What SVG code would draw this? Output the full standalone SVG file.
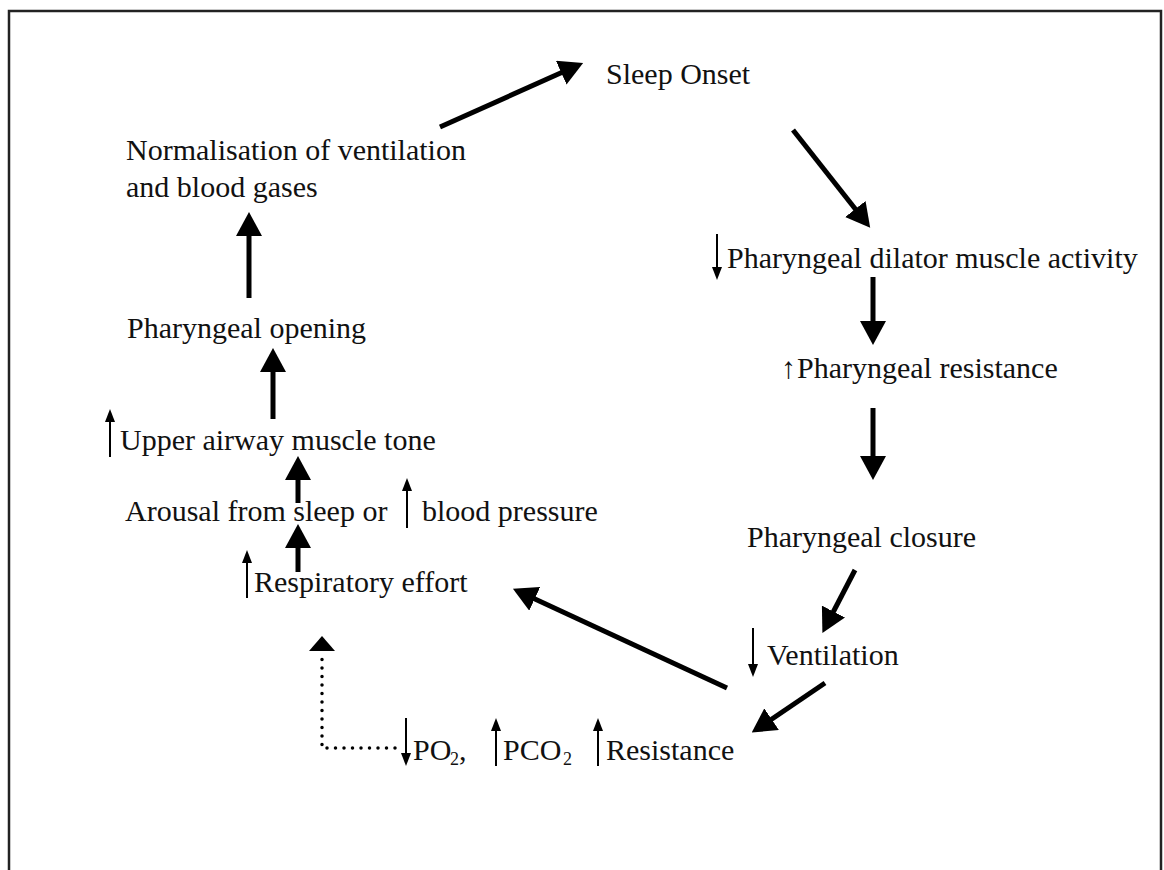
<svg xmlns="http://www.w3.org/2000/svg" width="1164" height="870" viewBox="0 0 1164 870">
  <style>
    text { font-family: "Liberation Serif", "Times New Roman", serif; font-size: 30px; fill: #111; }
    .sub { font-size: 18px; }
    .big { stroke: #000; stroke-width: 5; fill: none; }
    .small { stroke: #000; stroke-width: 2; fill: none; }
    .dot { stroke: #000; stroke-width: 3.5; fill: none; stroke-linecap: round; stroke-dasharray: 0 8.5; }
  </style>
  <defs>
    <marker id="bigHead" markerUnits="userSpaceOnUse" viewBox="0 0 24 26" refX="14" refY="13" markerWidth="24" markerHeight="26" orient="auto">
      <path d="M0,0 L24,13 L0,26 z" fill="#000"/>
    </marker>
    <marker id="smallHead" markerUnits="userSpaceOnUse" viewBox="0 0 13 10" refX="9" refY="5" markerWidth="13" markerHeight="10" orient="auto">
      <path d="M0,0 L13,5 L0,10 z" fill="#000"/>
    </marker>
  </defs>
  <rect width="1164" height="870" fill="#fff"/>
  <path d="M9,870 V11 H1161 V870" fill="none" stroke="#222" stroke-width="2.5"/>

  <g id="connectors">
    <line class="big" x1="440" y1="127" x2="574" y2="67" marker-end="url(#bigHead)"/>
    <line class="big" x1="793" y1="130" x2="864" y2="220" marker-end="url(#bigHead)"/>
    <line class="big" x1="873" y1="277" x2="873" y2="335" marker-end="url(#bigHead)"/>
    <line class="big" x1="873" y1="408" x2="873" y2="470" marker-end="url(#bigHead)"/>
    <line class="big" x1="855" y1="570" x2="827" y2="624" marker-end="url(#bigHead)"/>
    <line class="big" x1="727" y1="688" x2="522" y2="593" marker-end="url(#bigHead)"/>
    <line class="big" x1="825" y1="683" x2="760" y2="727" marker-end="url(#bigHead)"/>
    <line class="big" x1="249" y1="298" x2="249" y2="222" marker-end="url(#bigHead)"/>
    <line class="big" x1="273" y1="419" x2="273" y2="358" marker-end="url(#bigHead)"/>
    <line class="big" x1="298" y1="503" x2="298" y2="466" marker-end="url(#bigHead)"/>
    <line class="big" x1="298" y1="572" x2="298" y2="534" marker-end="url(#bigHead)"/>
    <path class="dot" d="M395,748 H322 V656"/>
    <path d="M309,651 L322,636 L335,651 z" fill="#000"/>
  </g>

  <g id="sleep-onset">
    <text x="606" y="84">Sleep Onset</text>
  </g>

  <g id="normalisation">
    <text x="126" y="160">Normalisation of ventilation</text>
    <text x="126" y="197">and blood gases</text>
  </g>

  <g id="pharyngeal-opening">
    <text x="127" y="338">Pharyngeal opening</text>
  </g>

  <g id="upper-airway">
    <line class="small" x1="110" y1="457" x2="110" y2="413" marker-end="url(#smallHead)"/>
    <text x="120" y="450">Upper airway muscle tone</text>
  </g>

  <g id="arousal">
    <text x="125" y="521">Arousal from sleep or</text>
    <line class="small" x1="407" y1="528" x2="407" y2="482" marker-end="url(#smallHead)"/>
    <text x="422" y="521">blood pressure</text>
  </g>

  <g id="respiratory-effort">
    <line class="small" x1="247" y1="598" x2="247" y2="554" marker-end="url(#smallHead)"/>
    <text x="254" y="592">Respiratory effort</text>
  </g>

  <g id="blood-gases">
    <line class="small" x1="406" y1="718" x2="406" y2="762" marker-end="url(#smallHead)"/>
    <text x="413" y="760">PO</text>
    <text class="sub" x="450" y="765">2</text>
    <text x="459" y="760">,</text>
    <line class="small" x1="496" y1="766" x2="496" y2="722" marker-end="url(#smallHead)"/>
    <text x="503" y="760">PCO</text>
    <text class="sub" x="563" y="765">2</text>
    <line class="small" x1="598" y1="766" x2="598" y2="722" marker-end="url(#smallHead)"/>
    <text x="606" y="760">Resistance</text>
  </g>

  <g id="dilator-activity">
    <line class="small" x1="717" y1="234" x2="717" y2="276" marker-end="url(#smallHead)"/>
    <text x="727" y="268">Pharyngeal dilator muscle activity</text>
  </g>

  <g id="pharyngeal-resistance">
    <text x="781" y="378">↑</text>
    <text x="797" y="378">Pharyngeal resistance</text>
  </g>

  <g id="pharyngeal-closure">
    <text x="747" y="547">Pharyngeal closure</text>
  </g>

  <g id="ventilation">
    <line class="small" x1="753" y1="628" x2="753" y2="673" marker-end="url(#smallHead)"/>
    <text x="767" y="665">Ventilation</text>
  </g>
</svg>
